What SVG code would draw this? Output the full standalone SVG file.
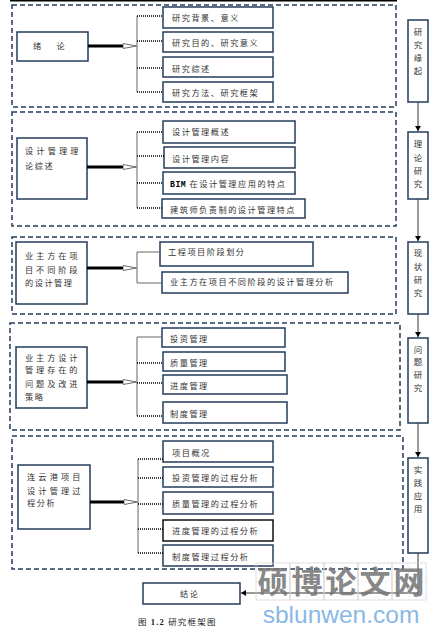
<svg xmlns="http://www.w3.org/2000/svg" width="445" height="634" viewBox="0 0 445 634">
<defs>
<style>
.dash{fill:none;stroke:#243c5c;stroke-width:1.5;stroke-dasharray:5 3}
.box{fill:#fff;stroke:#243c5c;stroke-width:1.5}
.t{font-family:"Noto Sans CJK SC","Noto Sans CJK JP",sans-serif;font-size:8.2px;fill:#333;letter-spacing:1.5px}
.v{font-family:"Noto Sans CJK SC",sans-serif;font-size:8.5px;fill:#333;text-anchor:middle}
.br{stroke:#666;stroke-width:1;fill:none}
.dot{stroke:#000;stroke-width:1.5;stroke-dasharray:1 1}
.thick{stroke:#000;stroke-width:3;marker-end:url(#hollow)}
.flow{stroke:#333;stroke-width:1;fill:none;marker-end:url(#solid)}
.grid{fill:none;stroke:#d0d0d0;stroke-width:0.7}
.gridc{stroke:#e0e0e0;stroke-width:0.5;stroke-dasharray:2 1}
.wm{font-family:"Noto Sans CJK SC",sans-serif;font-size:31px;font-weight:bold;fill:#777;fill-opacity:0.9;text-anchor:middle}
</style>
<marker id="hollow" markerUnits="userSpaceOnUse" markerWidth="16" markerHeight="8" refX="0.5" refY="3" orient="auto">
<path d="M0.5,0.5 L14,3 L0.5,5.5 Z" fill="#fff" stroke="#444" stroke-width="0.8"/>
</marker>
<marker id="solid" markerUnits="userSpaceOnUse" markerWidth="8" markerHeight="8" refX="5" refY="3" orient="auto">
<path d="M0,0 L5,3 L0,6 Z" fill="#000"/>
</marker>
</defs>
<rect width="445" height="634" fill="#fff"/>
<line x1="10" y1="0.8" x2="397" y2="0.8" stroke="#000" stroke-width="1.5"/>

<g id="section1">
<rect class="dash" x="12" y="5" width="384" height="102"/>
<g id="n-xulun"><rect class="box" x="17" y="32" width="71" height="29"/><text class="t" x="33" y="49" style="letter-spacing:3.5px">绪　论</text></g>
<g id="n1-1"><rect class="box" x="163" y="7" width="110" height="21"/><text class="t" x="172" y="21">研究背景、意义</text></g>
<g id="n1-2"><rect class="box" x="163" y="32" width="110" height="20"/><text class="t" x="172" y="46">研究目的、研究意义</text></g>
<g id="n1-3"><rect class="box" x="163" y="57" width="110" height="20"/><text class="t" x="172" y="72">研究综述</text></g>
<g id="n1-4"><rect class="box" x="163" y="82" width="110" height="20"/><text class="t" x="172" y="96">研究方法、研究框架</text></g>
</g>

<g id="section2">
<rect class="dash" x="12" y="112" width="384" height="114"/>
<g id="n-sheji"><rect class="box" x="17" y="138" width="70" height="61"/>
<text class="t" x="25" y="154" textLength="55" lengthAdjust="spacing">设计管理理</text>
<text class="t" x="25" y="169">论综述</text></g>
<g id="n2-1"><rect class="box" x="163" y="121" width="132" height="22"/><text class="t" x="172" y="135">设计管理概述</text></g>
<g id="n2-2"><rect class="box" x="164" y="147" width="131" height="21"/><text class="t" x="172" y="162">设计管理内容</text></g>
<g id="n2-3"><rect class="box" x="163" y="172" width="132" height="22"/><text class="t" x="170" y="187"><tspan style="font-family:'Liberation Mono',monospace;font-weight:bold;fill:#000;letter-spacing:0.5px">BIM</tspan> 在设计管理应用的特点</text></g>
<g id="n2-4"><rect class="box" x="162" y="199" width="143" height="19"/><text class="t" x="170" y="213">建筑师负责制的设计管理特点</text></g>
</g>

<g id="section3">
<rect class="dash" x="12" y="237" width="384" height="77"/>
<g id="n-yezhu"><rect class="box" x="16" y="242" width="71" height="62"/>
<text class="t" x="25" y="259" textLength="54" lengthAdjust="spacing">业主方在项</text>
<text class="t" x="25" y="273" textLength="54" lengthAdjust="spacing">目不同阶段</text>
<text class="t" x="25" y="286">的设计管理</text></g>
<g id="n3-1"><rect class="box" x="160" y="242" width="153" height="24"/><text class="t" x="168" y="255">工程项目阶段划分</text></g>
<g id="n3-2"><rect class="box" x="162" y="272" width="186" height="21"/><text class="t" x="170" y="285">业主方在项目不同阶段的设计管理分析</text></g>
</g>

<g id="section4">
<rect class="dash" x="10" y="323" width="390" height="107"/>
<g id="n-wenti"><rect class="box" x="16" y="347" width="71" height="61"/>
<text class="t" x="25" y="361" textLength="54" lengthAdjust="spacing">业主方设计</text>
<text class="t" x="25" y="373" textLength="54" lengthAdjust="spacing">管理存在的</text>
<text class="t" x="25" y="387" textLength="54" lengthAdjust="spacing">问题及改进</text>
<text class="t" x="25" y="400">策略</text></g>
<g id="n4-1"><rect class="box" x="162" y="328" width="123" height="19"/><text class="t" x="170" y="342">投资管理</text></g>
<g id="n4-2"><rect class="box" x="163" y="352" width="122" height="19"/><text class="t" x="170" y="366">质量管理</text></g>
<g id="n4-3"><rect class="box" x="163" y="375" width="124" height="19"/><text class="t" x="170" y="389">进度管理</text></g>
<g id="n4-4"><rect class="box" x="163" y="402" width="124" height="21"/><text class="t" x="170" y="417">制度管理</text></g>
</g>

<g id="section5">
<rect class="dash" x="12" y="436" width="391" height="133"/>
<g id="n-lianyungang"><rect class="box" x="18" y="465" width="72" height="64"/>
<text class="t" x="27" y="480" textLength="55" lengthAdjust="spacing">连云港项目</text>
<text class="t" x="27" y="494" textLength="55" lengthAdjust="spacing">设计管理过</text>
<text class="t" x="27" y="506">程分析</text></g>
<g id="n5-1"><rect class="box" x="163" y="441" width="110" height="21"/><text class="t" x="172" y="456">项目概况</text></g>
<g id="n5-2"><rect class="box" x="163" y="467" width="110" height="20"/><text class="t" x="172" y="481">投资管理的过程分析</text></g>
<g id="n5-3"><rect class="box" x="163" y="492" width="110" height="22"/><text class="t" x="172" y="507">质量管理的过程分析</text></g>
<g id="n5-4"><rect class="box" x="163" y="520" width="110" height="21" style="stroke:#111"/><text class="t" x="172" y="534">进度管理的过程分析</text></g>
<g id="n5-5"><rect class="box" x="163" y="545" width="110" height="21"/><text class="t" x="172" y="560">制度管理过程分析</text></g>
</g>

<g id="flow-column">
<g id="r1"><rect class="box" x="408" y="20" width="20" height="82"/><text class="v" x="418" y="35">研</text><text class="v" x="418" y="48">究</text><text class="v" x="418" y="61">缘</text><text class="v" x="418" y="74">起</text></g>
<g id="r2"><rect class="box" x="408" y="132" width="20" height="67"/><text class="v" x="418" y="147">理</text><text class="v" x="418" y="161">论</text><text class="v" x="418" y="174">研</text><text class="v" x="418" y="187">究</text></g>
<g id="r3"><rect class="box" x="408" y="242" width="20" height="72"/><text class="v" x="418" y="256">现</text><text class="v" x="418" y="270">状</text><text class="v" x="418" y="283">研</text><text class="v" x="418" y="296">究</text></g>
<g id="r4"><rect class="box" x="408" y="338" width="20" height="85"/><text class="v" x="418" y="353">问</text><text class="v" x="418" y="365">题</text><text class="v" x="418" y="378">研</text><text class="v" x="418" y="391">究</text></g>
<g id="r5"><rect class="box" x="408" y="458" width="20" height="95"/><text class="v" x="418" y="473">实</text><text class="v" x="418" y="486">践</text><text class="v" x="418" y="499">应</text><text class="v" x="418" y="512">用</text></g>
<g id="n-jielun"><rect class="box" x="143" y="583" width="97" height="21"/><text class="t" x="180" y="597">结论</text></g>
</g>

<g id="connectors">
<line class="thick" x1="88" y1="46" x2="123" y2="46"/>
<line class="thick" x1="87" y1="167" x2="123" y2="167"/>
<line class="thick" x1="87" y1="268" x2="123" y2="268"/>
<line class="thick" x1="87" y1="382" x2="123" y2="382"/>
<line class="thick" x1="90" y1="502" x2="124" y2="502"/>

<line class="br" x1="137" y1="16" x2="137" y2="92"/>
<line class="dot" x1="137" y1="16" x2="163" y2="16"/>
<line class="dot" x1="137" y1="41" x2="163" y2="41"/>
<line class="dot" x1="137" y1="68" x2="163" y2="68"/>
<line class="dot" x1="137" y1="92" x2="163" y2="92"/>

<line class="br" x1="137" y1="132" x2="137" y2="208"/>
<line class="dot" x1="137" y1="132" x2="163" y2="132"/>
<line class="dot" x1="137" y1="156" x2="164" y2="156"/>
<line class="dot" x1="137" y1="183" x2="163" y2="183"/>
<line class="dot" x1="137" y1="208" x2="162" y2="208"/>

<path class="br" d="M160,252 H137 V283 H162"/>

<line class="br" x1="137" y1="337" x2="137" y2="416"/>
<line class="br" x1="137" y1="337" x2="162" y2="337"/>
<line class="dot" x1="137" y1="363" x2="163" y2="363"/>
<line class="dot" x1="137" y1="383" x2="163" y2="383"/>
<line class="dot" x1="137" y1="416" x2="163" y2="416"/>

<line class="br" x1="138" y1="459" x2="138" y2="553"/>
<line class="dot" x1="138" y1="459" x2="163" y2="459"/>
<line class="dot" x1="138" y1="478" x2="163" y2="478"/>
<line class="dot" x1="138" y1="504" x2="163" y2="504"/>
<line class="dot" x1="138" y1="529" x2="163" y2="529"/>
<line class="dot" x1="138" y1="553" x2="163" y2="553"/>

<line class="flow" x1="418" y1="102" x2="418" y2="131"/>
<line class="flow" x1="418" y1="199" x2="418" y2="241"/>
<line class="flow" x1="418" y1="314" x2="418" y2="337"/>
<line class="flow" x1="418" y1="423" x2="418" y2="457"/>
<polyline class="flow" points="418,553 418,593 241,593"/>
</g>

<text x="138" y="625" style="font-family:'Noto Sans CJK SC',sans-serif;font-size:8.5px;fill:#222;letter-spacing:1.2px">图 <tspan style="font-family:'Liberation Serif',serif;font-weight:bold">1.2</tspan> 研究框架图</text>

<g id="watermark">
<rect class="grid" x="256" y="563" width="34" height="37"/>
<rect class="grid" x="290" y="563" width="34" height="37"/>
<rect class="grid" x="324" y="563" width="34" height="37"/>
<rect class="grid" x="358" y="563" width="34" height="37"/>
<rect class="grid" x="392" y="563" width="34" height="37"/>
<line class="gridc" x1="256" y1="581.5" x2="426" y2="581.5"/>
<line class="gridc" x1="273" y1="563" x2="273" y2="600"/>
<line class="gridc" x1="307" y1="563" x2="307" y2="600"/>
<line class="gridc" x1="341" y1="563" x2="341" y2="600"/>
<line class="gridc" x1="375" y1="563" x2="375" y2="600"/>
<line class="gridc" x1="409" y1="563" x2="409" y2="600"/>
<text class="wm" x="273" y="593">硕</text>
<text class="wm" x="307" y="593">博</text>
<text class="wm" x="341" y="593">论</text>
<text class="wm" x="375" y="593">文</text>
<text class="wm" x="409" y="593">网</text>
<text x="341" y="623" text-anchor="middle" style="font-family:'Liberation Sans',sans-serif;font-size:24.5px;fill:#8ab8e6">sblunwen.com</text>
</g>
</svg>
